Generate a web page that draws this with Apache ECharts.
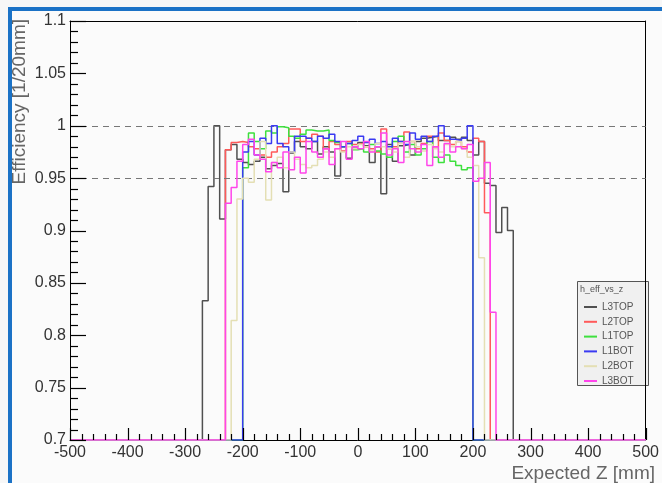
<!DOCTYPE html>
<html>
<head>
<meta charset="utf-8">
<script src="https://cdn.jsdelivr.net/npm/echarts@6/dist/echarts.min.js"></script>
<style>
  html, body { margin: 0; padding: 0; background: #f7f7f7; }
  #frame {
    position: absolute; left: 8px; top: 7px; width: 654px; height: 476px;
    box-sizing: border-box; border-left: 4px solid #1b72c6; border-top: 4px solid #1b72c6;
    background: #fbfbfb;
  }
  #chart { position: absolute; left: 0; top: 0; width: 662px; height: 483px; }
</style>
</head>
<body>
<div id="frame"></div>
<div id="chart"></div>
<script>
// histogram bins are 10 mm wide, each series lists its non-empty bins from its first edge
const BIN_WIDTH = 10;
const X_RANGE = [-500, 500];
const Y_RANGE = [0.7, 1.1];
const X_MAJOR = 100, X_MINOR = 20;
const Y_MAJOR = 0.05, Y_MINOR = 0.01;
const REF_LINES = [1, 0.95];

const seriesNames = ["L3TOP", "L2TOP", "L1TOP", "L1BOT", "L2BOT", "L3BOT"];
const seriesColors = ["#505050", "#ff5a5a", "#3ee03e", "#3a3af2", "#e4dfb4", "#ff45ea"];
const firstEdge = [-270, -230, -200, -200, -220, -230];

const L3TOP = [
  0.833, 0.942, 1.000, 0.911, 0.977, 0.982, 0.968, 0.965, 0.963, 0.966,
  0.970, 0.959, 0.962, 0.964, 0.937, 0.974, 0.985, 0.980, 0.978, 0.985,
  0.973, 0.980, 0.975, 0.952, 0.980, 0.969, 0.980, 0.984, 0.981, 0.965,
  0.980, 0.935, 0.982, 0.966, 0.981, 0.982, 0.972, 0.985, 0.988, 0.989,
  0.990, 0.986, 0.986, 0.989, 0.987, 0.989, 0.986, 0.972, 0.985, 0.945,
  0.943, 0.898, 0.922, 0.900
];
const L2TOP = [
  0.977, 0.984, 0.985, 0.984, 0.980, 0.978, 0.972, 0.970, 0.975, 0.980,
  0.983, 0.997, 0.997, 0.985, 0.988, 0.992, 0.990, 0.978, 0.985, 0.982,
  0.976, 0.985, 0.982, 0.983, 0.980, 0.978, 0.975, 0.997, 0.978, 0.980,
  0.985, 0.994, 0.985, 0.978, 0.983, 0.990, 0.980, 0.993, 0.986, 0.982,
  0.985, 0.980, 0.975, 0.988, 0.985, 0.917
];
const L1TOP = [
  0.960, 0.993, 0.985, 0.978, 0.995, 0.993, 0.999, 0.998, 0.990, 0.988,
  0.992, 0.996, 0.995, 0.995, 0.996, 0.986, 0.984, 0.980, 0.983, 0.977,
  0.978, 0.975, 0.982, 0.976, 0.973, 0.970, 0.985, 0.990, 0.975, 0.982,
  0.972, 0.978, 0.985, 0.970, 0.965, 0.972, 0.966, 0.962, 0.958, 0.960
];
const L1BOT = [
  0.975, 0.985, 0.972, 0.988, 0.983, 1.000, 0.983, 0.980, 0.975, 0.990,
  0.990, 0.988, 0.985, 0.990, 0.988, 0.992, 0.985, 0.980, 0.983, 0.986,
  0.990, 0.984, 0.987, 0.983, 0.985, 0.980, 0.988, 0.985, 0.982, 0.993,
  0.987, 0.990, 0.985, 0.990, 1.000, 0.990, 0.987, 0.986, 0.988, 1.000
];
const L2BOT = [
  0.814, 0.930, 0.950, 0.946, 0.968, 0.985, 0.929, 0.965, 0.970, 0.960,
  0.975, 0.968, 0.963, 0.960, 0.962, 0.968, 0.975, 0.970, 0.978, 0.975,
  0.980, 0.978, 0.982, 0.980, 0.976, 0.983, 0.980, 0.978, 0.975, 0.983,
  0.970, 0.985, 0.980, 0.976, 0.982, 0.978, 0.975, 0.982, 0.980, 0.985,
  0.978, 0.970, 0.962, 0.874
];
const L3BOT = [
  0.926, 0.941, 0.966, 0.982, 0.987, 0.972, 0.968, 0.956, 0.965, 0.960,
  0.975, 0.958, 0.970, 0.955, 0.985, 0.975, 0.970, 0.978, 0.963, 0.978,
  0.985, 0.968, 0.980, 0.978, 0.985, 0.975, 0.980, 0.993, 0.972, 0.978,
  0.965, 0.985, 0.978, 0.975, 0.982, 0.962, 0.980, 0.970, 0.983, 0.975,
  0.980, 0.978, 0.982, 0.947, 0.950, 0.965, 0.822
];
const seriesValues = [L3TOP, L2TOP, L1TOP, L1BOT, L2BOT, L3BOT];

const FONT = "'Liberation Sans', Arial, Helvetica, sans-serif";

// turn bin contents into step points (empty bins sit on the frame bottom like ROOT draws them)
function histPoints(start, values) {
  const floor = Y_RANGE[0];
  const pts = [[X_RANGE[0], floor]];
  values.forEach((v, i) => pts.push([start + i * BIN_WIDTH, Math.max(v, floor)]));
  pts.push([start + values.length * BIN_WIDTH, floor]);
  pts.push([X_RANGE[1], floor]);
  return pts;
}

const chart = echarts.init(document.getElementById("chart"), null, { renderer: "canvas" });

const series = seriesNames.map((name, k) => ({
  name: name,
  type: "line",
  step: "end",
  showSymbol: false,
  symbol: "none",
  data: histPoints(firstEdge[k], seriesValues[k]),
  lineStyle: { color: seriesColors[k], width: 1.5 },
  itemStyle: { color: seriesColors[k] },
  z: 3 + k,
}));

series[0].markLine = {
  silent: true,
  symbol: "none",
  label: { show: false },
  lineStyle: { type: [6, 5], color: "#777", width: 1 },
  data: REF_LINES.map(v => ({ yAxis: v })),
};

// bare line for the top and right side of the frame box
function frameAxis(position, range) {
  return {
    type: "value", position: position, min: range[0], max: range[1],
    axisLine: { show: true, onZero: false, lineStyle: { color: "#000", width: 1 } },
    axisTick: { show: false },
    axisLabel: { show: false },
    splitLine: { show: false },
  };
}

const baseGraphic = [
  {
    type: "rect", z: 0,
    shape: { x: 577.5, y: 281.5, width: 71, height: 104 },
    style: { fill: "#f0f0f0", stroke: "#555", lineWidth: 1 },
  },
  {
    type: "text", z: 1, x: 580, y: 290,
    style: { text: "h_eff_vs_z", font: "9px " + FONT, fill: "#555", verticalAlign: "middle" },
  },
  {
    type: "text", x: 20, y: 19, rotation: Math.PI / 2,
    style: { text: "Efficiency [1/20mm]", font: "19px " + FONT, fill: "#666", align: "right", verticalAlign: "middle" },
  },
  {
    type: "text", x: 655, y: 474,
    style: { text: "Expected Z [mm]", font: "19px " + FONT, fill: "#666", align: "right", verticalAlign: "middle" },
  },
];

const option = {
  animation: false,
  backgroundColor: "transparent",
  textStyle: { fontFamily: FONT },
  grid: { left: 70, right: 15, top: 21, bottom: 43, show: false },
  xAxis: [
    {
      type: "value", position: "bottom",
      min: X_RANGE[0], max: X_RANGE[1], interval: X_MAJOR,
      axisLine: { show: true, onZero: false, lineStyle: { color: "#000", width: 1 } },
      axisTick: { show: false },
      splitLine: { show: false },
      axisLabel: { fontSize: 16, color: "#333", margin: 5, fontFamily: FONT },
    },
    frameAxis("top", X_RANGE),
  ],
  yAxis: [
    {
      type: "value", position: "left",
      min: Y_RANGE[0], max: Y_RANGE[1], interval: Y_MAJOR,
      axisLine: { show: true, onZero: false, lineStyle: { color: "#000", width: 1 } },
      axisTick: { show: false },
      splitLine: { show: false },
      axisLabel: { fontSize: 16, color: "#333", margin: 4, fontFamily: FONT },
    },
    frameAxis("right", Y_RANGE),
  ],
  legend: {
    data: seriesNames,
    orient: "vertical",
    left: 579, top: 296,
    icon: "rect",
    itemWidth: 13, itemHeight: 2,
    itemGap: 2.8,
    textStyle: { fontSize: 10, color: "#555", lineHeight: 12, fontFamily: FONT },
    selectedMode: false,
  },
  graphic: baseGraphic,
  series: series,
};

chart.setOption(option);

// ROOT style inward ticks, placed through the chart's own axis scales
const ticks = [];
function tick(x1, y1, x2, y2) {
  ticks.push({
    type: "line", z: 20, silent: true,
    shape: { x1: x1, y1: y1, x2: x2, y2: y2 },
    style: { stroke: "#000", lineWidth: 1.2, opacity: 1 },
  });
}
const nx = Math.round((X_RANGE[1] - X_RANGE[0]) / X_MINOR);
const xPer = Math.round(X_MAJOR / X_MINOR);
for (let i = 0; i <= nx; i++) {
  const p = chart.convertToPixel({ gridIndex: 0 }, [X_RANGE[0] + i * X_MINOR, Y_RANGE[0]]);
  const x = Math.round(p[0]) + 0.5, y = Math.round(p[1]);
  tick(x, y, x, y - (i % xPer === 0 ? 12 : 6));
}
const ny = Math.round((Y_RANGE[1] - Y_RANGE[0]) / Y_MINOR);
const yPer = Math.round(Y_MAJOR / Y_MINOR);
for (let i = 0; i <= ny; i++) {
  const p = chart.convertToPixel({ gridIndex: 0 }, [X_RANGE[0], Y_RANGE[0] + i * Y_MINOR]);
  const x = Math.round(p[0]), y = Math.round(p[1]) + 0.5;
  tick(x, y, x + (i % yPer === 0 ? 16 : 8), y);
}
chart.setOption({ graphic: baseGraphic.concat(ticks) });
</script>
</body>
</html>
